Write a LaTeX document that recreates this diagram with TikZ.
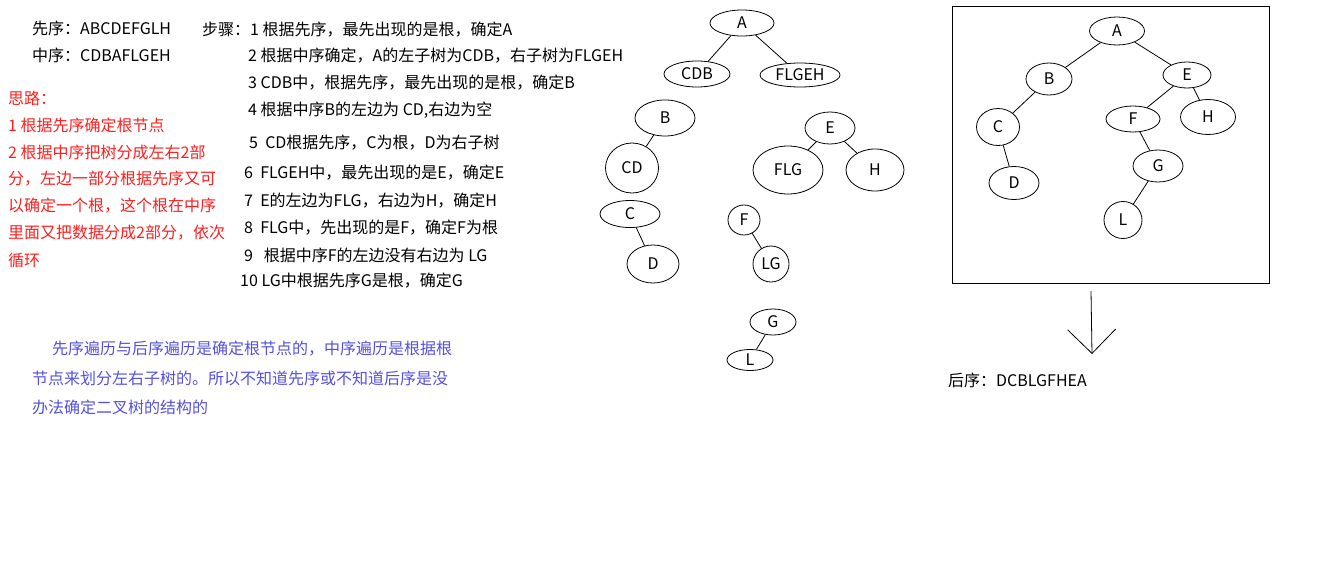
\documentclass[tikz,border=0pt]{standalone}
\usepackage{fontspec}
\setmainfont{Noto Sans CJK SC}
\usetikzlibrary{shapes.geometric, arrows.meta}

\definecolor{ideared}{RGB}{255,30,30}
\definecolor{noteblue}{RGB}{85,80,225}

\begin{document}
\begin{tikzpicture}[x=1pt, y=-1pt,
    txt/.style={anchor=west, inner sep=0pt, font=\fontsize{16}{19}\selectfont},
    idea/.style={txt, text=ideared},
    note/.style={txt, text=noteblue},
    tnode/.style={draw, ellipse, inner sep=0pt, line width=0.8pt, font=\fontsize{16}{19}\selectfont},
    branch/.style={line width=0.8pt},
    bigarrow/.style={line width=0.8pt, -{Straight Barb[length=24pt, width=48pt, line width=0.8pt]}}
]
    \useasboundingbox (0,0) rectangle (1341,570);

    % ================= TRAVERSALS =================
    \node[txt] (pre) at (32,28) {先序：ABCDEFGLH};
    \node[txt] (in) at (32,55) {中序：CDBAFLGEH};

    % ================= IDEA (RED) =================
    \node[idea] (idea0) at (8,98) {思路：};
    \node[idea] (idea1) at (8,125) {1 根据先序确定根节点};
    \node[idea] (idea2) at (8,152) {2 根据中序把树分成左右2部};
    \node[idea] (idea3) at (8,179) {分，左边一部分根据先序又可};
    \node[idea] (idea4) at (8,206) {以确定一个根，这个根在中序};
    \node[idea] (idea5) at (8,233) {里面又把数据分成2部分，依次};
    \node[idea] (idea6) at (8,260) {循环};

    % ================= STEPS =================
    \node[txt] (step1) at (202,30) {步骤：1 根据先序，最先出现的是根，确定A};
    \node[txt] (step2) at (248,56) {2 根据中序确定，A的左子树为CDB，右子树为FLGEH};
    \node[txt] (step3) at (248,83) {3 CDB中，根据先序，最先出现的是根，确定B};
    \node[txt] (step4) at (248,110) {4 根据中序B的左边为 CD,右边为空};
    \node[txt] (step5) at (249,143) {5 \ CD根据先序，C为根，D为右子树};
    \node[txt] (step6) at (244,173) {6 \ FLGEH中，最先出现的是E，确定E};
    \node[txt] (step7) at (244,201) {7 \ E的左边为FLG，右边为H，确定H};
    \node[txt] (step8) at (244,228) {8 \ FLG中，先出现的是F，确定F为根};
    \node[txt] (step9) at (244,255) {9 \ \ 根据中序F的左边没有右边为 LG};
    \node[txt] (step10) at (240,281) {10 LG中根据先序G是根，确定G};

    % ================= NOTE (BLUE) =================
    \node[note] (note1) at (52,349) {先序遍历与后序遍历是确定根节点的，中序遍历是根据根};
    \node[note] (note2) at (32,378) {节点来划分左右子树的。所以不知道先序或不知道后序是没};
    \node[note] (note3) at (32,407) {办法确定二叉树的结构的};

    % ================= STEP BY STEP SPLITS =================
    \node[tnode, minimum width=64pt, minimum height=26pt] (sA) at (742,23) {A};
    \node[tnode, minimum width=66pt, minimum height=26pt] (sCDB) at (697,74) {CDB};
    \node[tnode, minimum width=80pt, minimum height=24pt] (sFLGEH) at (800,75) {FLGEH};
    \node[tnode, minimum width=60pt, minimum height=36pt] (sB) at (665,118) {B};
    \node[tnode, minimum width=53pt, minimum height=50pt] (sCD) at (632,168) {CD};
    \node[tnode, minimum width=60pt, minimum height=27pt] (sC) at (630,214) {C};
    \node[tnode, minimum width=52pt, minimum height=38pt] (sD) at (653,264) {D};
    \node[tnode, minimum width=50pt, minimum height=32pt] (sE) at (830,128) {E};
    \node[tnode, minimum width=70pt, minimum height=48pt] (sFLG) at (788,170) {FLG};
    \node[tnode, minimum width=58pt, minimum height=42pt] (sH) at (875,170) {H};
    \node[tnode, minimum width=32pt, minimum height=30pt] (sF) at (744,220) {F};
    \node[tnode, minimum width=36pt, minimum height=36pt] (sLG) at (771,264) {LG};
    \node[tnode, minimum width=46pt, minimum height=26pt] (sG) at (773,322) {G};
    \node[tnode, minimum width=46pt, minimum height=21pt] (sL) at (750,360) {L};

    \draw[branch] (sA) -- (sCDB);
    \draw[branch] (sA) -- (sFLGEH);
    \draw[branch] (sB) -- (sCD);
    \draw[branch] (sC) -- (sD);
    \draw[branch] (sE) -- (sFLG);
    \draw[branch] (sE) -- (sH);
    \draw[branch] (sF) -- (sLG);
    \draw[branch] (sG) -- (sL);

    % ================= RESULT TREE =================
    \node[draw, line width=0.8pt, inner sep=0pt, minimum width=317pt, minimum height=277pt] (frame) at (1110.5,144.5) {};

    \node[tnode, minimum width=55pt, minimum height=28pt] (tA) at (1117,31) {A};
    \node[tnode, minimum width=46pt, minimum height=32pt] (tB) at (1049,79) {B};
    \node[tnode, minimum width=48pt, minimum height=26pt] (tE) at (1187,75) {E};
    \node[tnode, minimum width=43pt, minimum height=37pt] (tC) at (998,127) {C};
    \node[tnode, minimum width=50pt, minimum height=33pt] (tD) at (1014,183) {D};
    \node[tnode, minimum width=54pt, minimum height=26pt] (tF) at (1133,119) {F};
    \node[tnode, minimum width=55pt, minimum height=35pt] (tH) at (1208,117) {H};
    \node[tnode, minimum width=50pt, minimum height=32pt] (tG) at (1158,166) {G};
    \node[tnode, minimum width=38pt, minimum height=37pt] (tL) at (1123,220) {L};

    \draw[branch] (tA) -- (tB);
    \draw[branch] (tA) -- (tE);
    \draw[branch] (tB) -- (tC);
    \draw[branch] (tC) -- (tD);
    \draw[branch] (tE) -- (tF);
    \draw[branch] (tE) -- (tH);
    \draw[branch] (tF) -- (tG);
    \draw[branch] (tG) -- (tL);

    % ================= POSTORDER =================
    \coordinate (arrowtop) at (1091,291);
    \coordinate (arrowtip) at (1092,354);
    \draw[bigarrow] (arrowtop) -- (arrowtip);

    \node[txt] (post) at (948,380) {后序：DCBLGFHEA};

\end{tikzpicture}
\end{document}
